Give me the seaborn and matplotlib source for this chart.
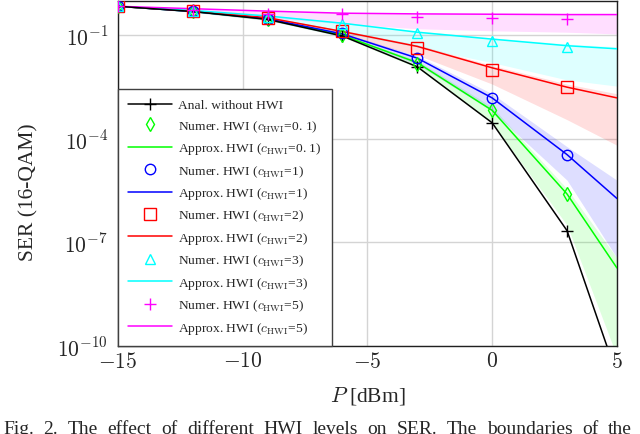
import numpy as np
import pandas as pd
import matplotlib
matplotlib.use('Agg')
import matplotlib.pyplot as plt
from matplotlib.lines import Line2D
import seaborn as sns

# potencias (dBm)
x_num = [-15, -12, -9, -6, -3, 0, 3]
x_line = [-15, -12, -9, -6, -3, 0, 3, 5]

# valores em log10(SER)
anal = [-0.17, -0.32, -0.55, -1.03, -1.92, -3.54, -6.66, -10.84]

approx_01 = [-0.17, -0.32, -0.54, -1.01, -1.80, -3.18, -5.60, -7.74]
approx_1 = [-0.17, -0.32, -0.53, -0.97, -1.67, -2.82, -4.46, -5.73]
approx_2 = [-0.17, -0.31, -0.50, -0.90, -1.33, -1.95, -2.51, -2.82]
approx_3 = [-0.17, -0.29, -0.45, -0.66, -0.92, -1.12, -1.31, -1.40]
approx_5 = [-0.17, -0.24, -0.31, -0.37, -0.39, -0.40, -0.41, -0.41]

numer_01 = [-0.17, -0.32, -0.54, -1.00, -1.84, -3.18, -5.60]
numer_1 = [-0.17, -0.32, -0.53, -0.95, -1.67, -2.82, -4.46]
numer_2 = [-0.17, -0.31, -0.51, -0.89, -1.37, -2.01, -2.51]
numer_3 = [-0.17, -0.30, -0.47, -0.68, -0.94, -1.18, -1.35]
numer_5 = [-0.17, -0.28, -0.40, -0.40, -0.49, -0.51, -0.54]

# limites das faixas (log10)
band_up_01 = [-0.17, -0.31, -0.52, -0.97, -1.74, -3.08, -5.45, -7.45]
band_lo_01 = [-0.17, -0.33, -0.57, -1.06, -1.95, -3.55, -6.50, -10.3]
band_up_1 = [-0.17, -0.31, -0.51, -0.93, -1.60, -2.70, -4.23, -5.20]
band_lo_1 = [-0.17, -0.34, -0.57, -1.05, -1.85, -3.20, -5.20, -7.45]
band_up_2 = [-0.17, -0.30, -0.48, -0.86, -1.28, -1.88, -2.42, -2.70]
band_lo_2 = [-0.17, -0.34, -0.58, -1.02, -1.58, -2.42, -3.45, -4.19]
band_up_3 = [-0.17, -0.28, -0.43, -0.63, -0.88, -1.08, -1.26, -1.34]
band_lo_3 = [-0.17, -0.34, -0.58, -0.95, -1.35, -1.80, -2.30, -2.48]
band_up_5 = [-0.17, -0.24, -0.31, -0.37, -0.39, -0.40, -0.41, -0.41]
band_lo_5 = [-0.17, -0.33, -0.50, -0.68, -0.82, -0.88, -0.92, -0.97]

labels_c = ['0. 1', '1', '2', '3', '5']
cores = ['#00ff00', '#0000ff', '#ff0000', '#00ffff', '#ff00ff']
marcadores = ['d', 'o', 's', '^', '+']
msizes = [7.5, 7.5, 8, 7, 8]

approx_all = [approx_01, approx_1, approx_2, approx_3, approx_5]
numer_all = [numer_01, numer_1, numer_2, numer_3, numer_5]
bands = [(band_lo_01, band_up_01), (band_lo_1, band_up_1), (band_lo_2, band_up_2),
         (band_lo_3, band_up_3), (band_lo_5, band_up_5)]

legenda_texto = 'Fig. 2.  The effect of different HWI levels on SER. The boundaries of the'

sns.set_theme(style='white')
plt.rcParams['font.family'] = ['Liberation Serif', 'DejaVu Serif']
plt.rcParams['mathtext.fontset'] = 'cm'

fig = plt.figure(figsize=(6.4, 4.35), dpi=100)
ax = fig.add_axes([0.184, 0.202, 0.78, 0.793])

# faixas
for (lo, up), cor in zip(bands, cores):
    ax.fill_between(x_line, 10.0 ** np.array(lo), 10.0 ** np.array(up),
                    color=cor, alpha=0.13, lw=0, zorder=1)

# linhas aproximadas
for vals, cor in zip(approx_all, cores):
    df = pd.DataFrame({'P': x_line, 'SER': 10.0 ** np.array(vals)})
    sns.lineplot(data=df, x='P', y='SER', color=cor, lw=1.1, ax=ax, zorder=3)

# analitico sem HWI
df_anal = pd.DataFrame({'P': x_line, 'SER': 10.0 ** np.array(anal)})
sns.lineplot(data=df_anal, x='P', y='SER', color='black', lw=1.1, ax=ax, zorder=4)
ax.plot(x_num, 10.0 ** np.array(anal[:len(x_num)]), ls='none', marker='+',
        color='black', ms=8, mew=1.0, zorder=5)

# pontos numericos
for vals, cor, mk, ms in zip(numer_all, cores, marcadores, msizes):
    ax.plot(x_num, 10.0 ** np.array(vals), ls='none', marker=mk, ms=ms,
            mfc='none', mec=cor, mew=1.0, zorder=5)

ax.set_yscale('log')
ax.set_xlim(-15, 5)
ax.set_ylim(1e-10, 0.95)
ax.set_xticks([-15, -10, -5, 0, 5])
ax.set_xticklabels([r'$-15$', r'$-10$', r'$-5$', r'$0$', r'$5$'])
ax.set_yticks([1e-10, 1e-7, 1e-4, 1e-1])
ax.set_yticklabels([r'$10^{-10}$', r'$10^{-7}$', r'$10^{-4}$', r'$10^{-1}$'])
ax.minorticks_off()
ax.tick_params(labelsize=15.5, direction='in', length=3, color='#b0b0b0', pad=4)
ax.tick_params(axis='y', pad=7)
ax.grid(True, color='#d4d4d4', lw=1.0, zorder=0)
for s in ax.spines.values():
    s.set_color('#202020')
    s.set_linewidth(1.0)

ax.set_xlabel(r'$P\;$[dBm]', fontsize=15.5, labelpad=9)
ax.set_ylabel('SER (16-QAM)', fontsize=15.5)
ax.yaxis.set_label_coords(-0.158, 0.45)

# legenda
handles = [Line2D([], [], color='black', lw=1.1, marker='+', ms=8)]
nomes = ['Anal. without HWI']
for c, cor, mk, ms in zip(labels_c, cores, marcadores, msizes):
    handles.append(Line2D([], [], ls='none', marker=mk, ms=ms, mfc='none', mec=cor, mew=1.0))
    nomes.append(r'Numer. HWI ($c_{\rm HWI}$=' + c + ')')
    handles.append(Line2D([], [], color=cor, lw=1.1))
    nomes.append(r'Approx. HWI ($c_{\rm HWI}$=' + c + ')')
leg = ax.legend(handles, nomes, loc='lower left', bbox_to_anchor=(0, 0),
                borderaxespad=0, fontsize=9.7, labelspacing=0.5, handlelength=3.3,
                handletextpad=0.45, borderpad=0.75, fancybox=False, framealpha=1)
leg.get_frame().set_edgecolor('#404040')
leg.get_frame().set_linewidth(1.0)
leg.set_zorder(10)

# legenda da figura, justificada
W, H = fig.get_size_inches() * fig.dpi
renderer = fig.canvas.get_renderer()
palavras = legenda_texto.split()
textos = [fig.text(0, (H - 434.0) / H, p, fontsize=14, va='baseline', ha='left')
          for p in palavras]
larguras = [t.get_window_extent(renderer).width for t in textos]
x0, x1 = 3.0, 632.0
gap = (x1 - x0 - sum(larguras)) / (len(palavras) - 1)
xpos = x0
for t, w in zip(textos, larguras):
    t.set_x(xpos / W)
    xpos += w + gap

fig.savefig('out.png', dpi=100)
